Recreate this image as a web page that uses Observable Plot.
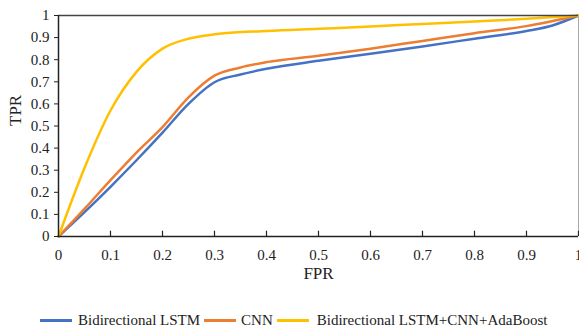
<!DOCTYPE html>
<html><head><meta charset="utf-8">
<script src="https://cdn.jsdelivr.net/npm/d3@7"></script>
<script src="https://cdn.jsdelivr.net/npm/@observablehq/plot@0.6"></script>
<style>
body{margin:0;background:#fff;font-family:"Liberation Serif","Times New Roman",serif;}
#wrap{position:relative;width:579px;height:329px;}
#legend{position:absolute;left:40px;top:312px;display:flex;align-items:center;font-size:15px;color:#222;white-space:nowrap;}
#legend .sw{display:inline-block;height:3px;width:32px;}
</style></head>
<body><div id="wrap"><div id="chart"></div><div id="legend"></div></div>
<script>
const seriesNames = ["Bidirectional LSTM", "CNN", "Bidirectional LSTM+CNN+AdaBoost"];
const seriesColors = ["#4472C4", "#ED7D31", "#FFC000"];
const fprLSTM = [0, 0.05, 0.1, 0.15, 0.2, 0.25, 0.3, 0.35, 0.4, 0.5, 0.6, 0.7, 0.8, 0.9, 0.95, 1];
const tprLSTM = [0, 0.11, 0.225, 0.345, 0.47, 0.6, 0.698, 0.733, 0.759, 0.795, 0.827, 0.86, 0.895, 0.93, 0.955, 1];
const fprCNN = [0, 0.05, 0.1, 0.15, 0.2, 0.25, 0.3, 0.35, 0.4, 0.5, 0.6, 0.7, 0.8, 0.9, 1];
const tprCNN = [0, 0.125, 0.255, 0.38, 0.495, 0.63, 0.728, 0.765, 0.789, 0.818, 0.85, 0.885, 0.92, 0.952, 1];
const fprAda = [0, 0.05, 0.1, 0.15, 0.2, 0.25, 0.3, 0.4, 0.5, 0.6, 0.7, 0.8, 0.9, 1];
const tprAda = [0, 0.31, 0.57, 0.745, 0.85, 0.895, 0.915, 0.93, 0.94, 0.95, 0.962, 0.973, 0.985, 1];
const xTicks = [0, 0.1, 0.2, 0.3, 0.4, 0.5, 0.6, 0.7, 0.8, 0.9, 1];
const yTicks = [0, 0.1, 0.2, 0.3, 0.4, 0.5, 0.6, 0.7, 0.8, 0.9, 1];
const xLabel = "FPR", yLabel = "TPR";

const toRows = (xs, ys, s) => xs.map((x, i) => ({x, y: ys[i], s}));
const rows = [
  ...toRows(fprLSTM, tprLSTM, seriesNames[0]),
  ...toRows(fprCNN, tprCNN, seriesNames[1]),
  ...toRows(fprAda, tprAda, seriesNames[2])
];
const font = {fontFamily: "Liberation Serif, Times New Roman, serif", fontSize: 15, fill: "#222"};

const chart = Plot.plot({
  width: 579, height: 300,
  marginLeft: 58, marginRight: 1, marginTop: 15, marginBottom: 64,
  style: {fontFamily: "Liberation Serif, Times New Roman, serif", fontSize: "15px", color: "#222", background: "#fff", overflow: "visible"},
  x: {domain: [0, 1]},
  y: {domain: [0, 1]},
  color: {domain: seriesNames, range: seriesColors},
  marks: [
    Plot.ruleX([1], {stroke: "#aaa", strokeWidth: 1}),
    Plot.line(rows, {x: "x", y: "y", stroke: "s", strokeWidth: 2.5, curve: "monotone-x"}),
    Plot.ruleY([1], {stroke: "#444", strokeWidth: 1.5}),
    Plot.ruleY([0], {stroke: "#222", strokeWidth: 1.5}),
    Plot.ruleX([0], {stroke: "#222", strokeWidth: 1.5}),
    Plot.ruleX(xTicks.slice(1), {x: d => d, y1: 0, y2: 0.024, stroke: "#222", strokeWidth: 1.2}),
    Plot.axisX({ticks: xTicks, tickSize: 0, tickPadding: 13, tickFormat: d => String(d), label: null, ...font}),
    Plot.axisY({ticks: yTicks, tickSize: 4, tickPadding: 5, tickFormat: d => String(d), label: null, ...font}),
    Plot.text([xLabel], {text: d => d, frameAnchor: "bottom", dy: 42, fontSize: 17, fontFamily: font.fontFamily, fill: "#222"}),
    Plot.text([yLabel], {text: d => d, frameAnchor: "left", dx: -43, rotate: -90, fontSize: 17, fontFamily: font.fontFamily, fill: "#222"})
  ]
});
document.getElementById("chart").appendChild(chart);

const legend = document.getElementById("legend");
const gaps = [[6, 4], [5, 4], [8, 0]];
seriesNames.forEach((n, i) => {
  const sw = document.createElement("span");
  sw.className = "sw"; sw.style.background = seriesColors[i];
  const t = document.createElement("span");
  t.textContent = n;
  t.style.marginLeft = gaps[i][0] + "px";
  t.style.marginRight = gaps[i][1] + "px";
  legend.appendChild(sw); legend.appendChild(t);
});
</script></body></html>
